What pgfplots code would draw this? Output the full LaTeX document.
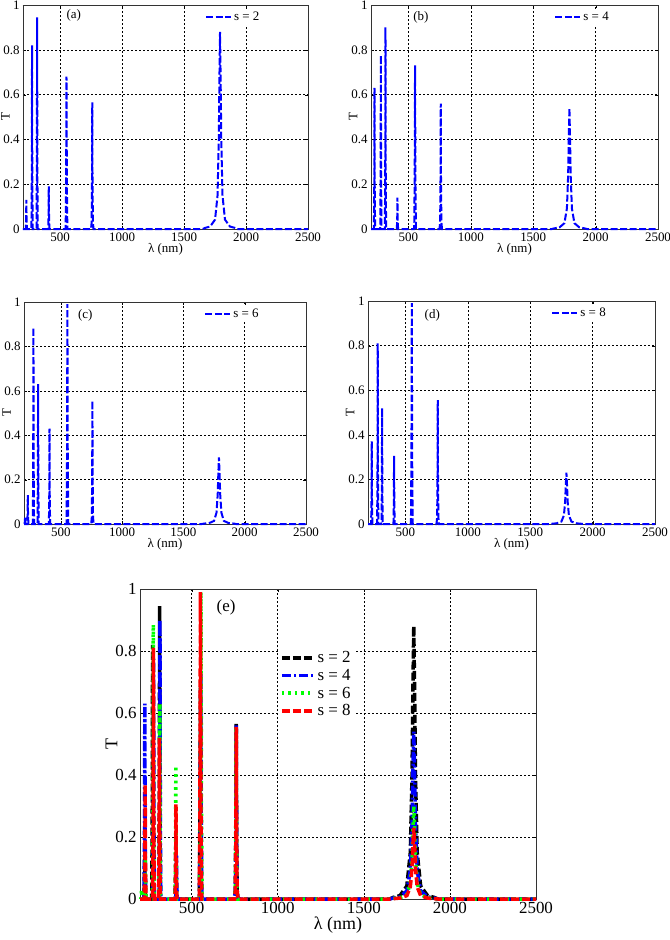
\documentclass[border=0pt]{standalone}
\usepackage{fontspec}
\setmainfont{Liberation Serif}
\usepackage{pgfplots}
\usepackage{pgfplotstable}
\pgfplotsset{compat=1.18}

\pgfplotstableread{
x y
200 0
222 0
225 0.04
227 0.13
229 0.04
232 0
268 0
271 0.25
273 0.82
275 0.25
278 0
309 0
312 0.28
314 0.945
316 0.28
319 0
403 0
406 0.06
408 0.19
410 0.06
413 0
544 0
548 0.2
551 0.68
554 0.2
558 0
749 0
754 0.03
757 0.23
759 0.565
761 0.23
764 0.03
769 0
1650 0
1670 0.005
1710 0.011
1750 0.042
1770 0.15
1780 0.40
1785 0.67
1790 0.88
1795 0.67
1800 0.40
1810 0.15
1830 0.042
1870 0.011
1910 0.005
1930 0
2500 0
}\tabA

\pgfplotstableread{
x y
200 0
223 0
226 0.19
228 0.63
230 0.19
233 0
274 0
277 0.23
279 0.775
281 0.23
284 0
311 0
314 0.27
316 0.90
318 0.27
321 0
407 0
410 0.04
412 0.14
414 0.04
417 0
546 0
550 0.22
553 0.73
556 0.22
560 0
749 0
754 0.03
757 0.22
759 0.56
761 0.22
764 0.03
769 0
1650 0
1670 0.003
1710 0.007
1750 0.026
1770 0.092
1780 0.243
1785 0.41
1790 0.54
1795 0.41
1800 0.243
1810 0.092
1830 0.026
1870 0.007
1910 0.003
1930 0
2500 0
}\tabB

\pgfplotstableread{
x y
200 0
205 0
209 0.03
213 0
226 0
229 0.04
231 0.13
233 0.04
236 0
272 0
275 0.27
277 0.885
279 0.27
282 0
310 0
313 0.19
315 0.63
317 0.19
320 0
403 0
406 0.13
408 0.43
410 0.13
413 0
547 0
551 0.3
554 0.99
557 0.3
561 0
748 0
753 0.03
756 0.22
758 0.555
760 0.22
763 0.03
768 0
1650 0
1670 0.002
1710 0.004
1750 0.014
1770 0.051
1780 0.135
1785 0.228
1790 0.30
1795 0.228
1800 0.135
1810 0.051
1830 0.014
1870 0.004
1910 0.002
1930 0
2500 0
}\tabC

\pgfplotstableread{
x y
200 0
225 0
228 0.11
230 0.37
232 0.11
235 0
273 0
276 0.24
278 0.81
280 0.24
283 0
308 0
311 0.16
313 0.52
315 0.16
318 0
404 0
407 0.09
409 0.305
411 0.09
414 0
544 0
548 0.3
551 0.99
554 0.3
558 0
749 0
754 0.03
757 0.22
759 0.555
761 0.22
764 0.03
769 0
1650 0
1670 0.001
1710 0.003
1750 0.011
1770 0.039
1780 0.10
1785 0.175
1790 0.23
1795 0.175
1800 0.10
1810 0.039
1830 0.011
1870 0.003
1910 0.001
1930 0
2500 0
}\tabD

\definecolor{mblue}{rgb}{0,0,1}
\definecolor{mgreen}{rgb}{0,1,0}
\definecolor{mred}{rgb}{1,0,0}

\pgfplotsset{
  base/.style={
    scale only axis,
    xmin=200, xmax=2500, ymin=0, ymax=1,
    xtick={500,1000,1500,2000,2500},
    ytick={0,0.2,0.4,0.6,0.8,1},
    yticklabels={0,0.2,0.4,0.6,0.8,1},
    grid=major,
    major grid style={black, line width=0.55bp, dash pattern=on 2bp off 2bp},
    axis line style={black!80, line width=0.8bp},
    tick align=inside,
    major tick length=3bp,
    tick style={black},
    clip=false,
    /pgf/number format/assume math mode=true,
    /pgf/number format/1000 sep={},
    xlabel={λ (nm)}, ylabel={T},
    legend cell align=left,
  },
  small/.style={
    base,
    width=285bp, height=224bp,
    ticklabel style={font=\fontsize{13}{14}\selectfont},
    xlabel style={font=\fontsize{13}{14}\selectfont, yshift=5bp},
    every axis y label/.style={at={(rel axis cs:-0.062,0.5)}, rotate=90, anchor=center,
      font=\fontsize{13}{14}\selectfont},
    legend style={draw=none, fill=white, at={(0.635,0.985)}, anchor=north west,
      font=\fontsize{13}{14}\selectfont, inner sep=1bp},
    legend image code/.code={\draw[##1] (0bp,0bp) -- (25bp,0bp);},
  },
  sline/.style={mblue, line width=2bp, dash pattern=on 7bp off 2.5bp},
}

\begin{document}
\begin{tikzpicture}
\path[use as bounding box] (0,0) rectangle (670bp,-940bp);

\begin{axis}[small, at={(23bp,-229bp)}, anchor=south west]
\addplot[sline] table {\tabA};
\addlegendentry{s = 2}
\node[anchor=center, font=\fontsize{13}{14}\selectfont] at (axis cs:610,0.955) {(a)};
\end{axis}

\begin{axis}[small, width=287bp, at={(371bp,-229bp)}, anchor=south west]
\addplot[sline] table {\tabB};
\addlegendentry{s = 4}
\node[anchor=center, font=\fontsize{13}{14}\selectfont] at (axis cs:600,0.945) {(b)};
\end{axis}

\begin{axis}[small, width=282bp, height=222bp, at={(24bp,-524bp)}, anchor=south west]
\addplot[sline] table {\tabC};
\addlegendentry{s = 6}
\node[anchor=center, font=\fontsize{13}{14}\selectfont] at (axis cs:700,0.94) {(c)};
\end{axis}

\begin{axis}[small, width=287bp, height=223bp, at={(368bp,-524bp)}, anchor=south west]
\addplot[sline] table {\tabD};
\addlegendentry{s = 8}
\node[anchor=center, font=\fontsize{13}{14}\selectfont] at (axis cs:715,0.935) {(d)};
\end{axis}

\begin{axis}[base, width=396bp, height=310bp, at={(140bp,-899bp)}, anchor=south west,
  ticklabel style={font=\fontsize{17}{18}\selectfont},
  xlabel style={font=\fontsize{18}{19}\selectfont, yshift=4bp},
  every axis y label/.style={at={(rel axis cs:-0.072,0.5)}, rotate=90, anchor=center,
    font=\fontsize{18}{19}\selectfont},
  legend style={draw=none, fill=white, at={(0.348,0.815)}, anchor=north west,
    font=\fontsize{17}{18}\selectfont, inner xsep=2bp, inner ysep=3bp, row sep=1bp},
  legend image code/.code={\draw[#1] (0bp,0bp) -- (32bp,0bp);},
]
\addplot[black, line width=3.5bp, dash pattern=on 8bp off 3bp] table {\tabA};
\addlegendentry{s = 2}
\addplot[mblue, line width=3.5bp, dash pattern=on 9bp off 3bp on 2bp off 3bp] table {\tabB};
\addlegendentry{s = 4}
\addplot[mgreen, line width=3.5bp, dash pattern=on 2.5bp off 4bp] table {\tabC};
\addlegendentry{s = 6}
\addplot[mred, line width=3.5bp, dash pattern=on 8bp off 3bp] table {\tabD};
\addlegendentry{s = 8}
\node[anchor=center, font=\fontsize{17}{18}\selectfont] at (axis cs:700,0.94) {(e)};
\end{axis}
\end{tikzpicture}
\end{document}
